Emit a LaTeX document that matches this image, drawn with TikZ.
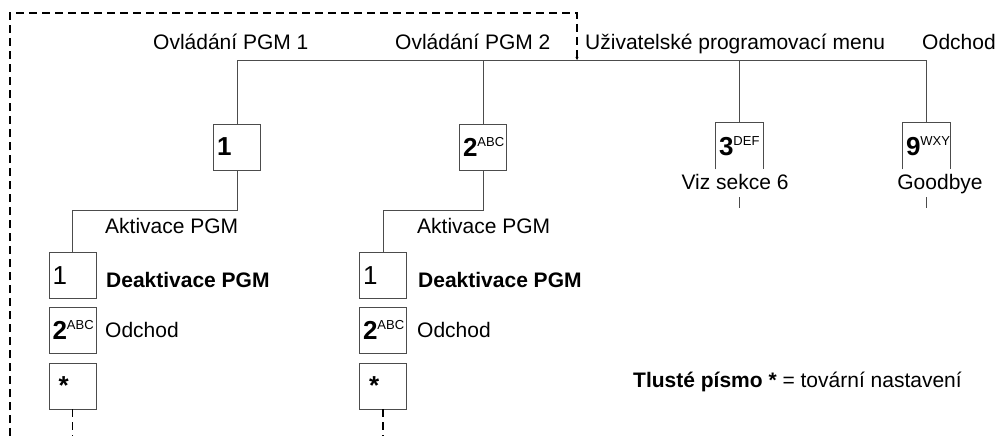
\documentclass[tikz,border=0pt]{standalone}
\usepackage{fontspec}
\setmainfont{Liberation Sans}
\usetikzlibrary{arrows.meta}

\tikzstyle{key}=[rectangle,
    draw=gray!60!black,
    line width=0.8pt,
    minimum height=46pt,
    minimum width=47pt,
    text width=40pt,
    inner xsep=3.5pt,
    inner ysep=0pt,
    align=left]
\tikzstyle{openkey}=[key, draw=none]
\tikzstyle{txt}=[anchor=base west, inner sep=0pt, font=\fontsize{21}{25}\selectfont]
\tikzstyle{branch}=[draw=gray!60!black, line width=0.8pt]
\tikzstyle{back}=[draw=black, line width=1.5pt, dash pattern=on 8pt off 5pt]

\newcommand{\keycap}[2]{{\fontsize{26}{26}\selectfont\bfseries #1}\raisebox{9.5pt}{\fontsize{13}{13}\selectfont #2}}
\newcommand{\keyplain}[1]{\vphantom{\keycap{2}{}}{\fontsize{26}{26}\selectfont #1}}

\begin{document}
\begin{tikzpicture}[x=1pt,y=-1pt]
            \useasboundingbox (0,0) rectangle (997,436);
            % first level
            \node (k1) [key] at (237,147) {\keycap{1}{}};
            \node (k2) [key] at (483,147) {\keycap{2}{ABC}};
            \node (k3) [openkey] at (739,146) {\keycap{3}{DEF}};
            \node (k9) [openkey] at (926,146) {\keycap{9}{WXY}};
            \coordinate (bus1) at (237,60);
            \coordinate (bus9) at (926,60);
            \node (pgma) [txt] at (153,50) {Ovládání PGM 1};
            \node (pgmb) [txt] at (395,50) {Ovládání PGM 2};
            \node (menu) [txt] at (585,50) {Uživatelské programovací menu};
            \node (exit) [txt] at (922,50) {Odchod};
            \node (viz) [txt, anchor=base] at (735,189) {Viz sekce 6};
            \node (bye) [txt, anchor=base] at (940,189) {Goodbye};
            \coordinate (vizin) at (739,197);
            \coordinate (vizout) at (739,208);
            \coordinate (byein) at (926,197);
            \coordinate (byeout) at (926,208);
            % second level, PGM 1
            \node (k1a) [key] at (72.5,275) {\keyplain{1}};
            \node (k2a) [key] at (72.5,330) {\keycap{2}{ABC}};
            \node (ksa) [key] at (72.5,386) {\keycap{\hspace{6pt}*}{}};
            \node (acta) [txt] at (105,233) {Aktivace PGM};
            \node (deaa) [txt] at (106,287) {\textbf{Deaktivace PGM}};
            \node (exa) [txt] at (105,337) {Odchod};
            % second level, PGM 2
            \node (k1b) [key] at (383,275) {\keyplain{1}};
            \node (k2b) [key] at (383,330) {\keycap{2}{ABC}};
            \node (ksb) [key] at (383,386) {\keycap{\hspace{6pt}*}{}};
            \node (actb) [txt] at (417,233) {Aktivace PGM};
            \node (deab) [txt] at (418,287) {\textbf{Deaktivace PGM}};
            \node (exb) [txt] at (417,337) {Odchod};
            \node (note) [txt] at (633,387) {\textbf{Tlusté písmo *} = tovární nastavení};
            % return path
            \coordinate (backa) at (10,436);
            \coordinate (backb) at (10,13);
            \coordinate (backc) at (577,13);
            \coordinate (backd) at (577,60);

            \draw [branch] (k1.north) -- (bus1) -- (bus9) -- (k9.north);
            \draw [branch] (k2.north) -- (k2 |- bus1);
            \draw [branch] (k3.north) -- (k3 |- bus1);
            \draw [branch] (k3.south west) -- (k3.north west) -- (k3.north east) -- (k3.south east);
            \draw [branch] (k9.south west) -- (k9.north west) -- (k9.north east) -- (k9.south east);
            \draw [branch] (vizin) -- (vizout);
            \draw [branch] (byein) -- (byeout);
            \draw [branch] (k1.south) -- ++(0,40) -| (k1a.north);
            \draw [branch] (k2.south) -- ++(0,40) -| (k1b.north);
            \draw [back,-{Stealth[length=3pt,width=3pt]}] (backa) -- (backb) -- (backc) -- (backd);
            \draw [back] (ksa.south) -- (ksa.south |- backa);
            \draw [back] (ksb.south) -- (ksb.south |- backa);
        \end{tikzpicture}
\end{document}
